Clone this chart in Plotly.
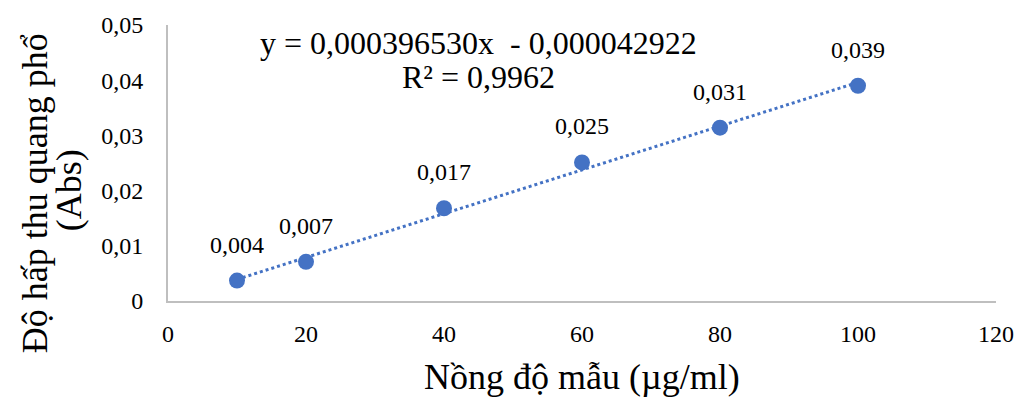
import plotly.graph_objects as go

# ---- data ----
conc = [10, 20, 40, 60, 80, 100]
absorb = [0.0037, 0.0071, 0.0168, 0.0251, 0.0314, 0.0390]
point_labels = ["0,004", "0,007", "0,017", "0,025", "0,031", "0,039"]
slope = 0.000396530
intercept = -0.000042922
r2_text = "R² = 0,9962"
eq_text = "y = 0,000396530x \u00a0- 0,000042922"
x_ticks = [0, 20, 40, 60, 80, 100, 120]
y_ticks = [0, 0.01, 0.02, 0.03, 0.04, 0.05]
y_tick_text = ["0", "0,01", "0,02", "0,03", "0,04", "0,05"]

FONT = "Liberation Serif, Times New Roman, serif"
BLUE = "#4472C4"

trend_x = [conc[0], conc[-1]]
trend_y = [slope * v + intercept for v in trend_x]

fig = go.Figure()
fig.add_trace(go.Scatter(x=trend_x, y=trend_y, mode="lines",
                         line=dict(color=BLUE, width=3, dash="dot"),
                         hoverinfo="skip", showlegend=False))
fig.add_trace(go.Scatter(x=conc, y=absorb, mode="markers",
                         marker=dict(color=BLUE, size=16),
                         showlegend=False))

annotations = []
for xv, yv, t in zip(conc, absorb, point_labels):
    annotations.append(dict(x=xv, y=yv, xref="x", yref="y", text=t,
                            showarrow=False, yshift=36,
                            font=dict(family=FONT, size=24, color="#000")))
annotations.append(dict(x=45, y=0.0467, xref="x", yref="y", text=eq_text,
                        showarrow=False, font=dict(family=FONT, size=32, color="#000")))
annotations.append(dict(x=45, y=0.0405, xref="x", yref="y", text=r2_text,
                        showarrow=False, font=dict(family=FONT, size=32, color="#000")))
# axis titles
annotations.append(dict(x=0.5, y=-0.275, xref="paper", yref="paper",
                        text="Nồng độ mẫu (µg/ml)", showarrow=False,
                        xanchor="center", yanchor="middle",
                        font=dict(family=FONT, size=36, color="#000")))
annotations.append(dict(x=-0.161, y=0.389, xref="paper", yref="paper",
                        text="Độ hấp thu quang phổ", showarrow=False, textangle=-90,
                        xanchor="center", yanchor="middle",
                        font=dict(family=FONT, size=36, color="#000")))
annotations.append(dict(x=-0.120, y=0.40, xref="paper", yref="paper",
                        text="(Abs)", showarrow=False, textangle=-90,
                        xanchor="center", yanchor="middle",
                        font=dict(family=FONT, size=36, color="#000")))

fig.update_layout(
    width=1026, height=397,
    margin=dict(l=168, r=26, t=21, b=96),
    plot_bgcolor="white", paper_bgcolor="white",
    annotations=annotations,
    xaxis=dict(range=[0, 120], tickvals=x_ticks, showgrid=False, zeroline=False,
               showline=True, linecolor="#BFBFBF", linewidth=2, ticks="",
               ticklabelstandoff=10,
               tickfont=dict(family=FONT, size=24, color="#000")),
    yaxis=dict(range=[0, 0.05], tickvals=y_ticks, ticktext=y_tick_text,
               showgrid=False, zeroline=False,
               showline=True, linecolor="#BFBFBF", linewidth=2, ticks="",
               ticklabelstandoff=18,
               tickfont=dict(family=FONT, size=24, color="#000")),
)

fig.write_html("out.html", config={"displayModeBar": False},
               post_script="document.body.style.margin='0';document.body.style.overflow='hidden';")
